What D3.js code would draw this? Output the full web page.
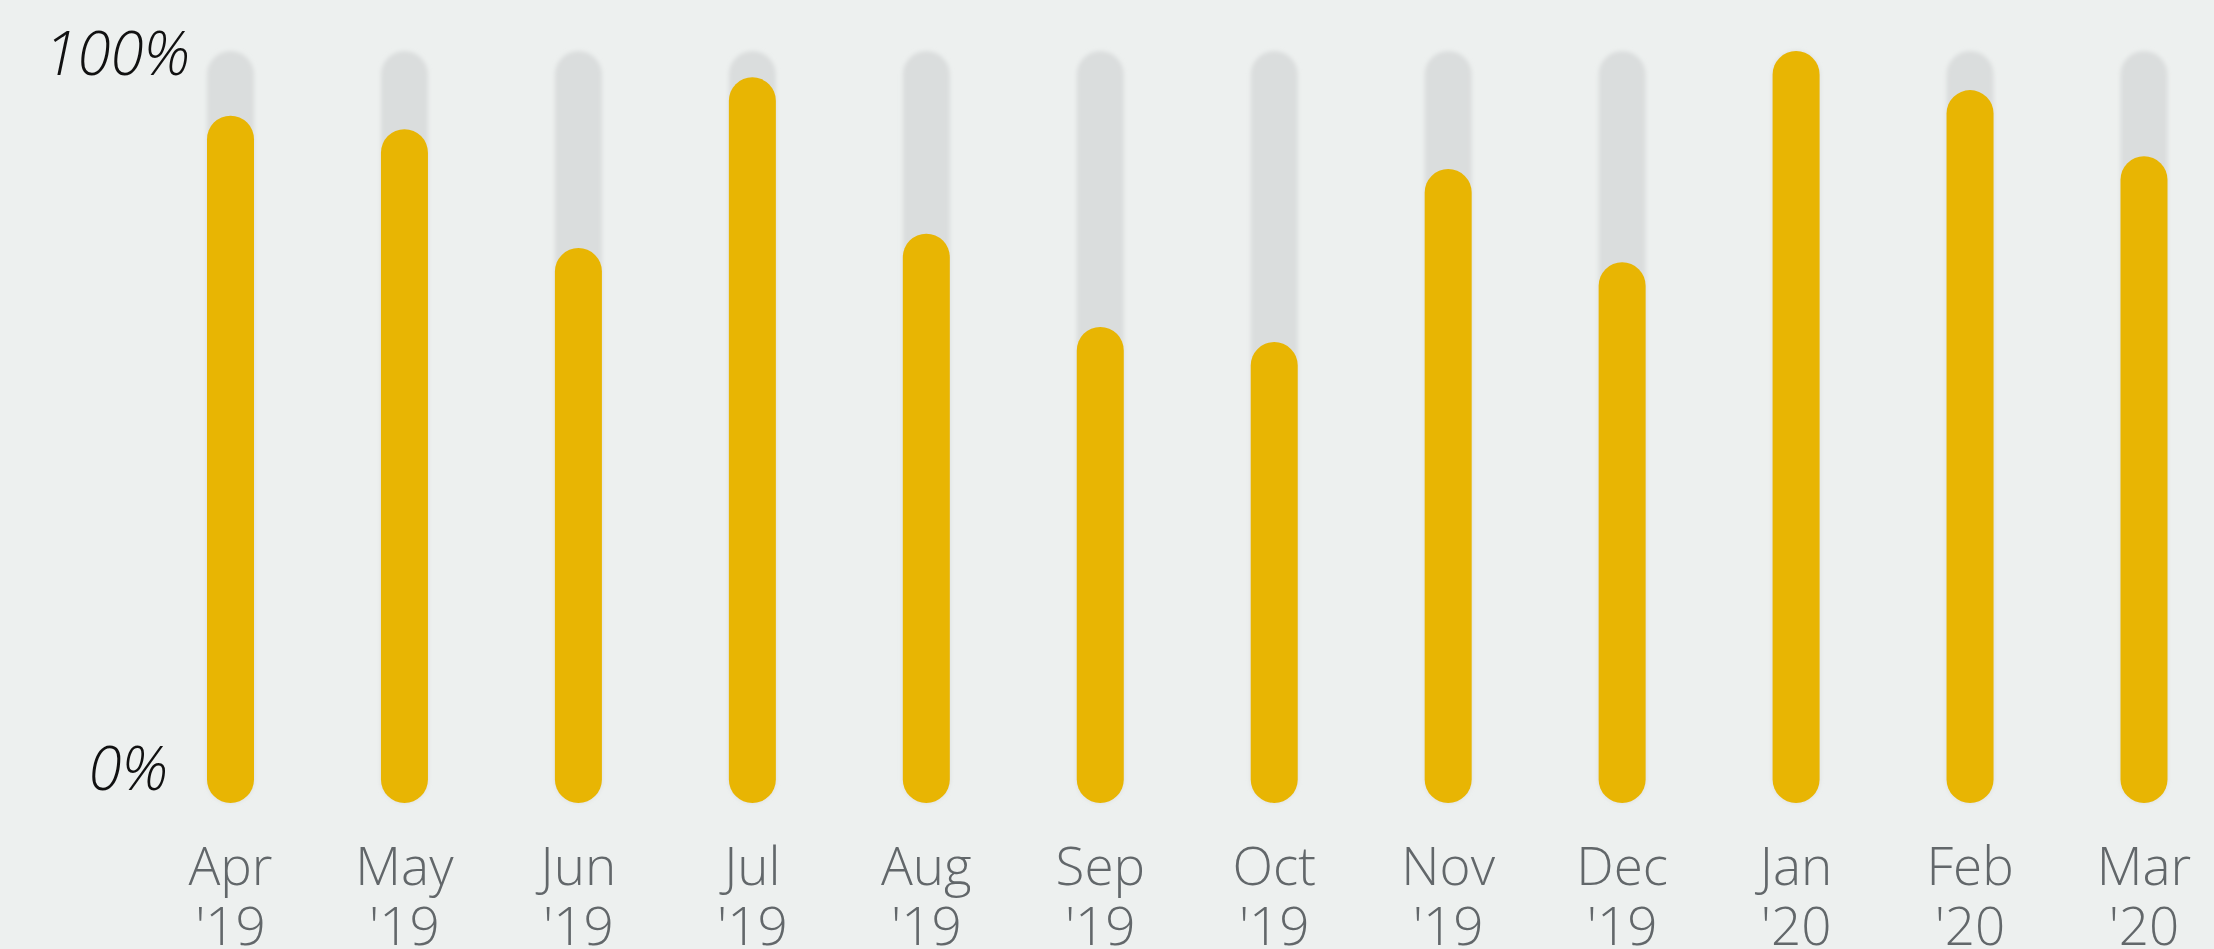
<!DOCTYPE html>
<html>
<head>
<meta charset="utf-8">
<script src="https://cdn.jsdelivr.net/npm/d3@7"></script>
<style>
  html, body { margin: 0; padding: 0; background: #edf0ef; }
  svg { display: block; }
</style>
</head>
<body>
<svg id="chart" width="2214" height="949"></svg>
<script>
// months and their share (fraction of 100%)
var months = [ 'Apr', 'May', 'Jun', 'Jul', 'Aug', 'Sep', 'Oct', 'Nov', 'Dec', 'Jan', 'Feb', 'Mar' ];
var years  = [ "'19", "'19", "'19", "'19", "'19", "'19", "'19", "'19", "'19", "'20", "'20", "'20" ];
var shares = [ 0.914, 0.896, 0.738, 0.965, 0.757, 0.633, 0.613, 0.843, 0.719, 1.0, 0.948, 0.860 ];
var tickValues = [ 0, 1 ];

var svg = d3.select( '#chart' );
var barWidth = 47;

var x = d3.scalePoint()
    .domain( d3.range( months.length ) )
    .range( [ 230.5, 2144 ] );
var y = d3.scaleLinear()
    .domain( [ 0, 1 ] )
    .range( [ 803, 51 ] );

// soft edge for the grey tracks
var defs = svg.append( 'defs' );
defs.append( 'filter' )
    .attr( 'id', 'soft' )
    .attr( 'x', '-20%' ).attr( 'y', '-5%' )
    .attr( 'width', '140%' ).attr( 'height', '110%' )
    .append( 'feGaussianBlur' )
    .attr( 'stdDeviation', 2 );

var bars = svg.append( 'g' );

// grey track, full height
bars.selectAll( 'rect.track' )
    .data( shares )
    .enter().append( 'rect' )
    .attr( 'class', 'track' )
    .attr( 'x', function( d, i ) { return x( i ) - barWidth / 2; } )
    .attr( 'y', y( 1 ) )
    .attr( 'width', barWidth )
    .attr( 'height', y( 0 ) - y( 1 ) )
    .attr( 'rx', barWidth / 2 )
    .attr( 'fill', '#dadddd' )
    .attr( 'filter', 'url(#soft)' );

// yellow value bar
bars.selectAll( 'rect.value' )
    .data( shares )
    .enter().append( 'rect' )
    .attr( 'class', 'value' )
    .attr( 'x', function( d, i ) { return x( i ) - barWidth / 2; } )
    .attr( 'y', function( d ) { return y( d ); } )
    .attr( 'width', barWidth )
    .attr( 'height', function( d ) { return y( 0 ) - y( d ); } )
    .attr( 'rx', barWidth / 2 )
    .attr( 'fill', '#e8b503' );

// percent labels
var pct = d3.format( '.0%' );
svg.selectAll( 'text.pct' )
    .data( tickValues )
    .enter().append( 'text' )
    .attr( 'class', 'pct' )
    .attr( 'x', function( d ) { return d === 1 ? 190 : 168; } )
    .attr( 'y', function( d ) { return d === 1 ? y( d ) + 24 : y( d ) - 13; } )
    .attr( 'text-anchor', 'end' )
    .style( 'font-family', '"Open Sans", sans-serif' )
    .style( 'font-style', 'italic' )
    .style( 'font-weight', 300 )
    .style( 'font-size', '60px' )
    .attr( 'fill', '#111' )
    .text( function( d ) { return pct( d ); } );

// month labels, two lines
var labels = svg.selectAll( 'text.month' )
    .data( months )
    .enter().append( 'text' )
    .attr( 'class', 'month' )
    .attr( 'text-anchor', 'middle' )
    .style( 'font-family', '"Open Sans", sans-serif' )
    .style( 'font-weight', 350 )
    .style( 'font-size', '53px' )
    .attr( 'fill', '#62676a' );
labels.append( 'tspan' )
    .attr( 'x', function( d, i ) { return x( i ); } )
    .attr( 'y', 885 )
    .text( function( d ) { return d; } );
labels.append( 'tspan' )
    .attr( 'x', function( d, i ) { return x( i ); } )
    .attr( 'y', 945 )
    .text( function( d, i ) { return years[ i ]; } );
</script>
</body>
</html>
